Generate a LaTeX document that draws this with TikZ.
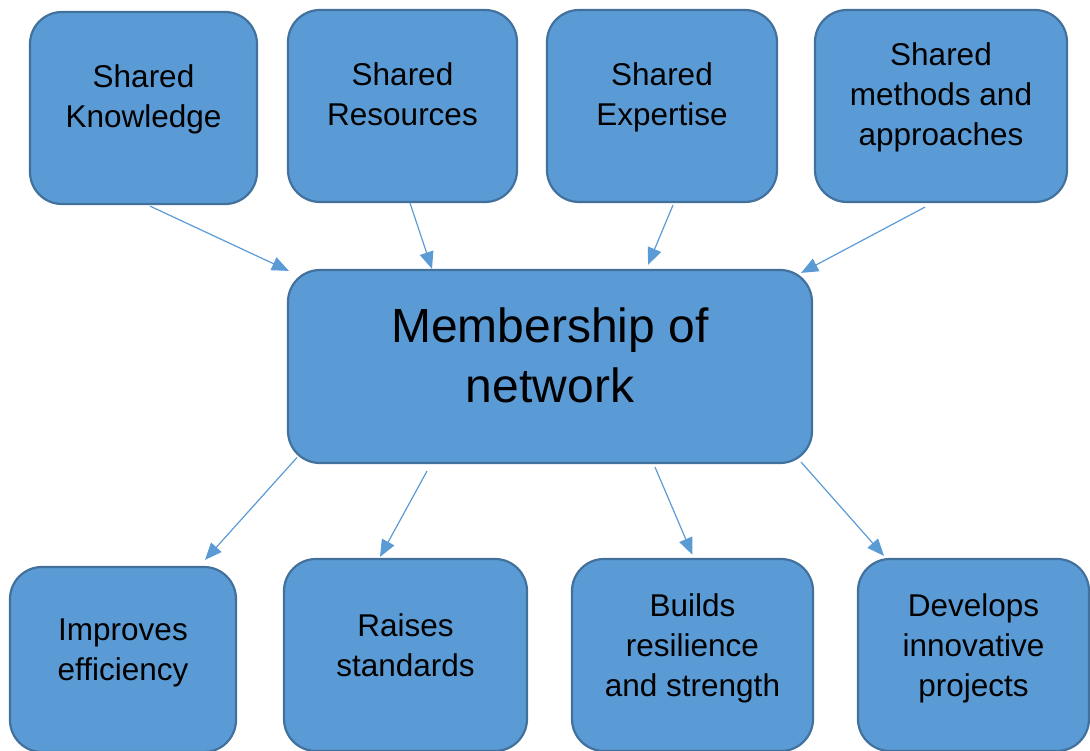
\documentclass[tikz,border=0pt]{standalone}
\usepackage{fontspec}
\setmainfont{Liberation Sans}
\usetikzlibrary{arrows.meta}
\definecolor{boxblue}{HTML}{5B9BD5}
\definecolor{boxedge}{HTML}{41719C}

\begin{document}
\begin{tikzpicture}[x=1pt,y=-1pt]
  \tikzset{
    card/.style={
      draw=boxedge,
      fill=boxblue,
      line width=2.2pt,
      rounded corners=32pt,
      minimum width=228pt,
      minimum height=192pt,
      inner sep=0pt
    },
    cardtext/.style={
      font=\fontsize{31.5}{40}\selectfont,
      align=center,
      yshift=5.5pt,
      execute at begin node=\strut,
      execute at end node=\strut
    },
    bigtext/.style={
      font=\fontsize{48}{60}\selectfont,
      yshift=-3.5pt
    },
    line/.style={
      draw=boxblue,
      line width=1.2pt,
      -{Triangle[length=17pt,width=14pt]}
    }
  }

  \useasboundingbox (0,0) rectangle (1090,751);
  \clip (0,0) rectangle (1090,751);

  % top row
  \node[card, minimum width=227pt, label={[cardtext]center:Shared\\Knowledge}] (know) at (143.5,108) {};
  \node[card, minimum width=229pt, label={[cardtext]center:Shared\\Resources}] (res) at (402.5,106) {};
  \node[card, minimum width=230pt, label={[cardtext]center:Shared\\Expertise}] (exp) at (662,106) {};
  \node[card, minimum width=252pt, label={[cardtext]center:Shared\\methods and\\approaches}] (meth) at (941,106) {};

  % middle
  \node[card, minimum width=524pt, minimum height=193pt, label={[cardtext,bigtext]center:Membership of\\network}] (member) at (550,366.5) {};

  % bottom row
  \node[card, minimum width=226pt, minimum height=185pt, label={[cardtext,yshift=-1.5pt]center:Improves\\efficiency}] (impr) at (123,659.5) {};
  \node[card, minimum width=243pt, label={[cardtext,yshift=-1.5pt]center:Raises\\standards}] (raise) at (405.5,655) {};
  \node[card, minimum width=241pt, label={[cardtext,yshift=-1.5pt]center:Builds\\resilience\\and strength}] (build) at (692.5,655) {};
  \node[card, minimum width=231pt, label={[cardtext,yshift=-1.5pt]center:Develops\\innovative\\projects}] (dev) at (973.5,655) {};

  \path
  ([xshift=6.5pt,yshift=-1pt]know.south) edge[line] ([xshift=2pt,yshift=-2pt]member.north west)
  ([xshift=7.5pt]res.south) edge[line] ([xshift=-118pt]member.north)
  ([xshift=11pt,yshift=-2pt]exp.south) edge[line] ([xshift=98pt,yshift=4pt]member.north)
  ([xshift=-16pt,yshift=-4pt]meth.south) edge[line] ([xshift=-12pt,yshift=-4pt]member.north east)
  ([xshift=10pt,yshift=6.5pt]member.south west) edge[line] ([xshift=82pt,yshift=6pt]impr.north)
  ([xshift=-123pt,yshift=-7pt]member.south) edge[line] ([xshift=-25.5pt,yshift=1pt]raise.north)
  ([xshift=105pt,yshift=-3pt]member.south) edge[line] ([yshift=3pt]build.north)
  ([xshift=-12pt,yshift=2pt]member.south east) edge[line] ([xshift=-89.5pt,yshift=2pt]dev.north);

\end{tikzpicture}
\end{document}
